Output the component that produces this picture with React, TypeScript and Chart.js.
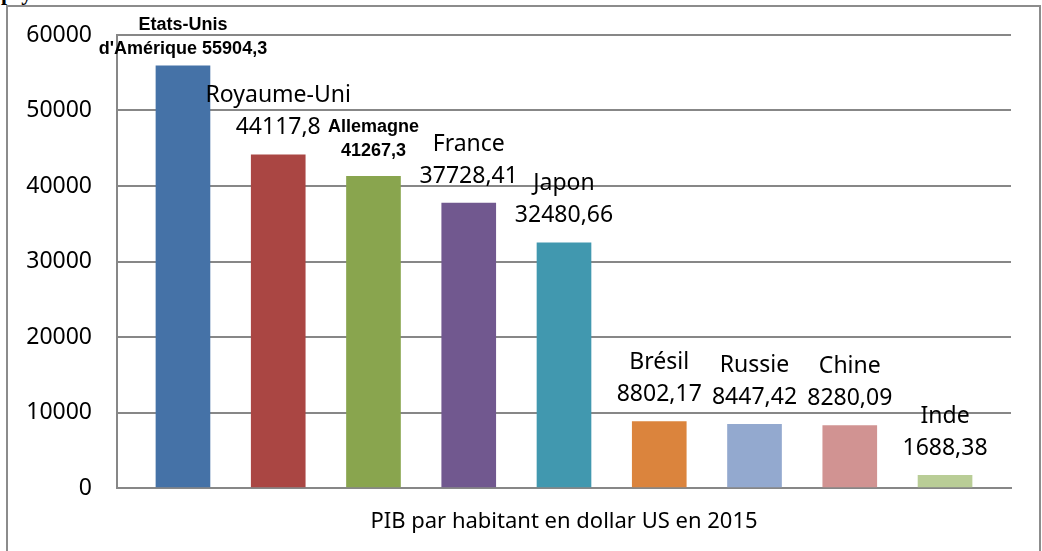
import { useEffect, useRef } from "react";
import { Chart, registerables } from "chart.js";

Chart.register(...registerables);

// ---- Data ----
const categoryLines: string[][] = [
  ["Etats-Unis", "d'Amérique"],
  ["Royaume-Uni"],
  ["Allemagne"],
  ["France"],
  ["Japon"],
  ["Brésil"],
  ["Russie"],
  ["Chine"],
  ["Inde"],
];
const categories = categoryLines.map((l) => l.join(" "));
const values = [55904.3, 44117.8, 41267.3, 37728.41, 32480.66, 8802.17, 8447.42, 8280.09, 1688.38];
const valueOnOwnLine = [false, true, true, true, true, true, true, true, true];
const boldLabel = [true, false, true, false, false, false, false, false, false];
const barColors = ["#4572A7", "#AA4643", "#89A54E", "#71588F", "#4198AF", "#DB843D", "#93A9CF", "#D19392", "#B9CD96"];
const yMin = 0;
const yMax = 60000;
const yStep = 10000;
const axisTitle = "PIB par habitant en dollar US en 2015";

const FONT = "'Noto Sans', 'Open Sans', sans-serif";
const BOLD_FONT = "'Liberation Sans', Arial, sans-serif";
const GRID = "#878787";

const frFormat = (v: number) => String(v).replace(".", ",");

const labelPlugin = {
  id: "barLabels",
  afterDatasetsDraw(chart: any) {
    const ctx = chart.ctx as CanvasRenderingContext2D;
    const meta = chart.getDatasetMeta(0);
    meta.data.forEach((bar: any, i: number) => {
      const bold = boldLabel[i];
      const lines = [...categoryLines[i]];
      const v = frFormat(values[i]);
      if (valueOnOwnLine[i]) lines.push(v);
      else lines[lines.length - 1] = lines[lines.length - 1] + " " + v;
      const lh = bold ? 24 : 32;
      const gap = bold ? 25 : 27;
      let firstY = bar.y - gap - (lines.length - 1) * lh;
      const minTop = chart.chartArea.top - 10;
      if (firstY < minTop) firstY = minTop;
      ctx.save();
      ctx.font = bold ? `bold 18px ${BOLD_FONT}` : `23px ${FONT}`;
      ctx.textAlign = "center";
      ctx.textBaseline = "middle";
      ctx.fillStyle = "#000";
      lines.forEach((l, k) => ctx.fillText(l, bar.x, firstY + k * lh));
      ctx.restore();
    });
  },
};

export default function App() {
  const canvasRef = useRef<HTMLCanvasElement | null>(null);

  useEffect(() => {
    if (!canvasRef.current) return;
    const chart = new Chart(canvasRef.current, {
      type: "bar",
      data: {
        labels: categories,
        datasets: [
          {
            data: values.map((v, i) => ({ x: i, y: v })) as any,
            backgroundColor: barColors,
            borderWidth: 0,
            barThickness: 54,
          },
        ],
      },
      options: {
        animation: false,
        responsive: false,
        maintainAspectRatio: false,
        layout: { padding: { top: 35, right: 31, left: 0, bottom: 0 } },
        plugins: { legend: { display: false }, tooltip: { enabled: false } },
        scales: {
          x: {
            type: "linear",
            offset: false,
            min: -0.6925,
            max: categories.length - 1 + 0.6925,
            ticks: { display: false },
            grid: { display: false, drawTicks: false, offset: false },
            border: { display: true, color: GRID, width: 2 },
            title: {
              display: true,
              text: axisTitle,
              color: "#000",
              font: { family: FONT, size: 22 },
              padding: { top: 0, bottom: 16 },
            },
            afterFit: (s: any) => {
              s.height = 63;
            },
          },
          y: {
            min: yMin,
            max: yMax,
            ticks: {
              stepSize: yStep,
              color: "#000",
              font: { family: FONT, size: 23 },
              padding: 0,
              callback: (v: any) => String(v),
            },
            grid: {
              color: GRID,
              lineWidth: 2,
              drawTicks: true,
              tickLength: 25,
              tickColor: "rgba(0,0,0,0)",
            },
            border: { display: true, color: GRID, width: 2 },
            afterFit: (s: any) => {
              s.width = 117;
            },
          },
        },
      },
      plugins: [labelPlugin],
    });
    return () => chart.destroy();
  }, []);

  return (
    <div
      style={{
        position: "absolute",
        left: 0,
        top: 0,
        width: 1042,
        height: 551,
        overflow: "hidden",
        background: "#fff",
      }}
    >
      <span
        style={{
          position: "absolute",
          left: 1,
          top: -20,
          font: "bold 22px 'Liberation Serif', serif",
          letterSpacing: 8,
          color: "#000",
        }}
      >
        py
      </span>
      <div
        style={{
          position: "absolute",
          left: 6,
          top: 5,
          width: 1035,
          height: 600,
          boxSizing: "border-box",
          border: "2px solid #8c8c8c",
          borderBottom: "none",
        }}
      />
      <canvas
        ref={canvasRef}
        width={1042}
        height={551}
        style={{ position: "absolute", left: 0, top: 0, width: 1042, height: 551 }}
      />
    </div>
  );
}
